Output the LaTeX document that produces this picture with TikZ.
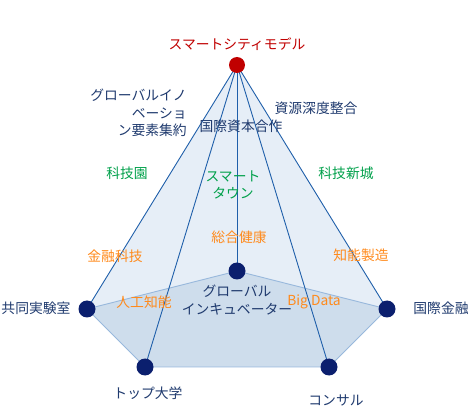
\documentclass[tikz,border=0pt]{standalone}
\usepackage{fontspec}
\setmainfont{Noto Sans CJK JP}
\usetikzlibrary{backgrounds}
\definecolor{apexred}{HTML}{C00000}
\definecolor{hubnavy}{HTML}{0B1F6E}
\definecolor{ribblue}{HTML}{1F5FAA}
\definecolor{rimblue}{HTML}{98B8DC}
\definecolor{facefill}{HTML}{E6EEF7}
\definecolor{basefill}{HTML}{CEDDEC}
\definecolor{textnavy}{HTML}{1F3A6E}
\definecolor{labgreen}{HTML}{00A04A}
\definecolor{laborange}{HTML}{FF8A1C}

\begin{document}
\begin{tikzpicture}[
    x=1pt, y=1pt,
    every node/.style={font=\fontsize{13.8}{17.5}\selectfont},
    hub/.style={circle, fill=hubnavy, minimum size=17pt, inner sep=0pt},
    navylbl/.style={text=textnavy, align=center, inner sep=0pt},
    greenlbl/.style={text=labgreen, align=center, inner sep=0pt},
    orangelbl/.style={text=laborange, align=center, inner sep=0pt},
    rib/.style={draw=ribblue, line width=0.9pt},
    rim/.style={draw=rimblue, line width=0.9pt}
]
  \useasboundingbox (0,0) rectangle (475,416);

  % hubs
  \node[hub, fill=apexred, minimum size=16pt] (apex) at (237,351) {};
  \node[hub] (lab) at (87,107) {};
  \node[hub] (incub) at (237,145) {};
  \node[hub] (fin) at (387,107) {};
  \node[hub] (univ) at (145,49) {};
  \node[hub] (cons) at (329,49) {};

  % faces
  \begin{scope}[on background layer]
    \fill[facefill] (apex.center) -- (lab.center) -- (univ.center) -- (cons.center) -- (fin.center) -- cycle;
    \fill[basefill] (lab.center) -- (incub.center) -- (fin.center) -- (cons.center) -- (univ.center) -- cycle;
    \draw[rim] (lab.center) -- (incub.center) -- (fin.center) -- (cons.center) -- (univ.center) -- cycle;
    \draw[rib] (apex.center) -- (lab.center);
    \draw[rib] (apex.center) -- (univ.center);
    \draw[rib] (apex.center) -- (incub.center);
    \draw[rib] (apex.center) -- (cons.center);
    \draw[rib] (apex.center) -- (fin.center);
  \end{scope}

  % labels
  \node[navylbl, text=apexred] (title) at (237,372) {スマートシティモデル};
  \node[navylbl, align=right, anchor=east] (glo) at (187,303) {グローバルイノ\\ベーショ\\ン要素集約};
  \node[navylbl] (capital) at (241,290) {国際資本合作};
  \node[navylbl] (resource) at (316,308) {資源深度整合};
  \node[greenlbl] (park) at (127,243) {科技園};
  \node[greenlbl] (town) at (233,231) {スマート\\タウン};
  \node[greenlbl] (newcity) at (346,243) {科技新城};
  \node[orangelbl] (health) at (239,179) {総合健康};
  \node[orangelbl] (fintech) at (115,160) {金融科技};
  \node[orangelbl] (manuf) at (361,161) {知能製造};
  \node[orangelbl] (ai) at (144,114) {人工知能};
  \node[orangelbl] (bigdata) at (314,114) {Big Data};
  \node[navylbl] at (237,116) {グローバル\\インキュベーター};
  \node[navylbl] at (36,108) {共同実験室};
  \node[navylbl] at (441,108) {国際金融};
  \node[navylbl] at (148,23) {トップ大学};
  \node[navylbl] at (336,16) {コンサル};
\end{tikzpicture}
\end{document}
